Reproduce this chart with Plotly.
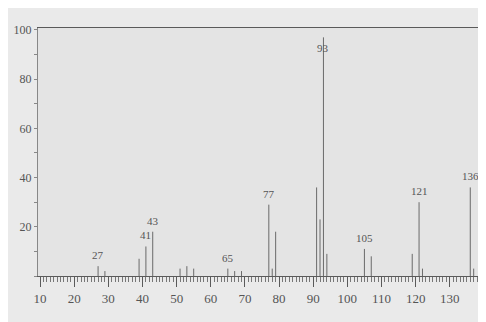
import plotly.graph_objects as go

# m/z values and relative intensities (%)
mz = [27, 29, 39, 41, 43, 51, 53, 55, 65, 67, 69, 77, 78, 79,
      91, 92, 93, 94, 105, 107, 119, 121, 122, 136, 137]
intensity = [4, 2, 7, 12, 18, 3, 4, 3, 3, 2, 2, 29, 3, 18,
             36, 23, 97, 9, 11, 8, 9, 30, 3, 36, 3]

# labelled peaks
label_mz = [27, 41, 43, 65, 77, 93, 105, 121, 136]
label_y = [4, 12, 18, 3, 29, 88, 11, 30, 36]

x_ticks = [10, 20, 30, 40, 50, 60, 70, 80, 90, 100, 110, 120, 130]
y_ticks = [20, 40, 60, 80, 100]

line_col = "#5a5a5a"
bar_col = "#6a6a6a"
font_serif = "Liberation Serif"

# stick spectrum: one vertical segment per peak
xs, ys = [], []
for m, v in zip(mz, intensity):
    xs += [m, m, None]
    ys += [0, v, None]

fig = go.Figure()
fig.add_trace(go.Scatter(
    x=xs, y=ys, mode="lines",
    line=dict(color=bar_col, width=1),
    showlegend=False, hoverinfo="skip",
))

for m, y in zip(label_mz, label_y):
    fig.add_annotation(
        x=m, y=y, text=str(m), showarrow=False,
        yanchor="bottom", yshift=3,
        font=dict(family=font_serif, size=11, color="#555555"),
    )

fig.update_layout(
    width=486, height=322,
    margin=dict(l=22, r=6, t=20, b=54),
    paper_bgcolor="#eaeaea",
    plot_bgcolor="#e4e4e4",
    xaxis=dict(
        range=[9.4, 140.9],
        tickmode="array", tickvals=x_ticks,
        ticks="outside", ticklen=10, tickwidth=1, tickcolor=line_col,
        minor=dict(dtick=1, tick0=0, ticks="outside", ticklen=5,
                   tickwidth=1, tickcolor="#777777"),
        showline=True, linecolor=line_col, linewidth=1, mirror=True,
        showgrid=False, zeroline=False,
        tickfont=dict(family=font_serif, size=13, color="#555555"),
    ),
    yaxis=dict(
        range=[0, 100.8],
        tickmode="array", tickvals=y_ticks,
        ticks="outside", ticklen=3, tickwidth=1, tickcolor="#888888",
        minor=dict(dtick=10, tick0=0, ticks="outside", ticklen=3,
                   tickwidth=1, tickcolor="#888888"),
        showline=True, linecolor="#888888", linewidth=1, mirror=True,
        showgrid=False, zeroline=False,
        tickfont=dict(family=font_serif, size=12, color="#555555"),
    ),
)

fig.write_html("out.html")
